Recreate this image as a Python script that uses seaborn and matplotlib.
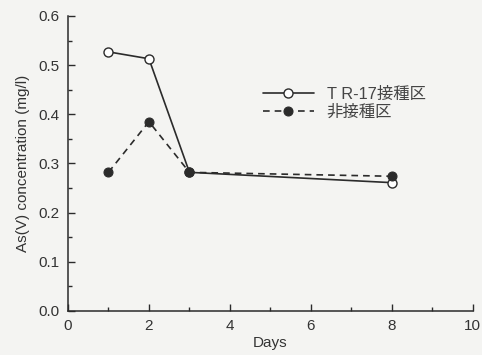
import numpy as np
import pandas as pd
import matplotlib
matplotlib.use("Agg")
import matplotlib.pyplot as plt
import seaborn as sns
from matplotlib.ticker import MultipleLocator, FormatStrFormatter

sns.set_theme(style="ticks")
plt.rcParams["font.family"] = ["Liberation Sans", "Noto Sans CJK JP"]

days = [1, 2, 3, 8]
tr17 = [0.527, 0.513, 0.282, 0.261]
control = [0.282, 0.385, 0.282, 0.274]
labels = ["T R-17接種区", "非接種区"]

ink = "#2b2b2b"
bg = "#f4f4f2"

fig, ax = plt.subplots(figsize=(4.82, 3.55), dpi=100)
fig.patch.set_facecolor(bg)
ax.set_facecolor(bg)
fig.subplots_adjust(left=0.141, right=0.981, bottom=0.124, top=0.955)

sns.lineplot(x=days, y=tr17, color=ink, marker="o", markersize=6.5,
             markerfacecolor="white", markeredgecolor=ink, markeredgewidth=1,
             linewidth=1.2, label=labels[0], ax=ax)
sns.lineplot(x=days, y=control, color=ink, marker="o", markersize=6.5,
             markerfacecolor=ink, markeredgecolor=ink, linestyle=(0, (4, 3)),
             linewidth=1.2, label=labels[1], ax=ax)

leg = ax.legend(loc="upper left", bbox_to_anchor=(0.445, 0.81), frameon=False,
                handlelength=3.1, fontsize=11.8, labelspacing=0.15,
                handletextpad=0.8)
for t in leg.get_texts():
    t.set_color("#444444")

ax.set_xlim(0, 10)
ax.set_ylim(0, 0.6)
ax.xaxis.set_major_locator(MultipleLocator(2))
ax.xaxis.set_minor_locator(MultipleLocator(1))
ax.yaxis.set_major_locator(MultipleLocator(0.1))
ax.yaxis.set_minor_locator(MultipleLocator(0.05))
ax.yaxis.set_major_formatter(FormatStrFormatter("%.1f"))
ax.tick_params(which="both", direction="in", color=ink, width=1,
               labelcolor="#333333", labelsize=11)
ax.tick_params(which="major", length=5, pad=6)
ax.tick_params(which="minor", length=3)
for s in ["top", "right"]:
    ax.spines[s].set_visible(False)
for s in ["left", "bottom"]:
    ax.spines[s].set_color(ink)
    ax.spines[s].set_linewidth(1.1)
ax.set_xlabel("Days", fontsize=11, color="#333333", labelpad=2)
ax.set_ylabel("As(V) concentration (mg/l)", fontsize=11, color="#333333",
              labelpad=6)

fig.savefig("out.png", dpi=100, facecolor=bg)
